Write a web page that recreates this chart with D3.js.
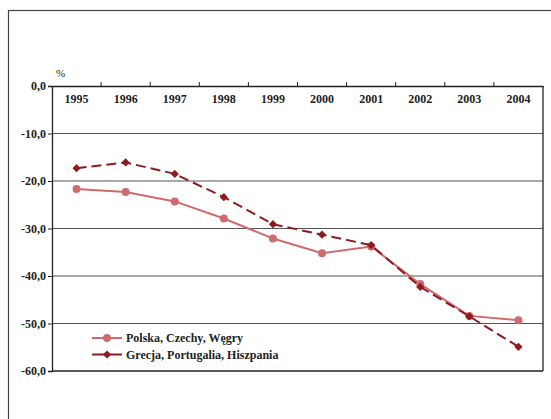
<!DOCTYPE html>
<html><head><meta charset="utf-8">
<script src="https://cdn.jsdelivr.net/npm/d3@7"></script>
<style>body{margin:0;background:#fff}svg{display:block}
svg text{font-family:"Liberation Serif","Times New Roman",Times,"DejaVu Serif","Noto Serif",serif !important;}</style>
</head><body>
<script>
const years = ["1995","1996","1997","1998","1999","2000","2001","2002","2003","2004"];
const seriesNames = ["Polska, Czechy, Węgry","Grecja, Portugalia, Hiszpania"];
const polska = [-21.7,-22.3,-24.3,-27.9,-32.1,-35.2,-33.8,-41.7,-48.4,-49.3];
const grecja = [-17.3,-16.1,-18.5,-23.4,-29.1,-31.3,-33.5,-42.3,-48.5,-54.9];
const yTicks = [0,-10,-20,-30,-40,-50,-60];

const W=551,H=419;
const svg=d3.select("body").append("svg").attr("width",W).attr("height",H);
svg.append("rect").attr("x",8.5).attr("y",10.5).attr("width",560).attr("height",420)
  .attr("fill","none").attr("stroke","#444").attr("stroke-width",1.2);

const L=52,R=543,T=86,B=371;
const x=d3.scaleBand().domain(years).range([L,R]);
const y=d3.scaleLinear().domain([0,-60]).range([T,B]);
const g=svg.append("g");

g.selectAll(".grid").data(yTicks.filter(d=>d!==0&&d!==-60)).join("line")
  .attr("x1",L).attr("x2",R).attr("y1",d=>y(d)).attr("y2",d=>y(d))
  .attr("stroke","#555").attr("stroke-width",1.2);
g.append("line").attr("x1",L).attr("x2",R).attr("y1",y(-60)).attr("y2",y(-60)).attr("stroke","#222").attr("stroke-width",1.3);
g.append("line").attr("x1",R).attr("x2",R).attr("y1",T).attr("y2",B).attr("stroke","#222").attr("stroke-width",1.3);

const yAxis=d3.axisLeft(y).tickValues(yTicks).tickSize(4).tickFormat(d=>d3.format(".1f")(d).replace(".",",").replace("−","-"));
const ya=svg.append("g").attr("transform",`translate(${L},0)`).call(yAxis);
ya.attr("font-family",null);
ya.select(".domain").attr("stroke","#222").attr("stroke-width",1.3);
ya.selectAll(".tick line").attr("stroke","#222");
ya.selectAll("text").style("font-weight","bold").style("font-size","12px").attr("fill","#222").attr("x",-6);

const xAxis=d3.axisTop(x).tickSize(0).tickFormat(d=>d);
const xa=svg.append("g").attr("transform",`translate(0,${T})`).call(xAxis);
xa.attr("font-family",null);
xa.select(".domain").attr("stroke","#222").attr("stroke-width",1.3);
xa.selectAll("text").style("font-weight","bold").style("font-size","12px").attr("fill","#222").attr("y",17).attr("dy",0);
svg.append("g").selectAll("line").data(years.slice(1)).join("line")
  .attr("x1",d=>x(d)).attr("x2",d=>x(d)).attr("y1",T-4).attr("y2",T).attr("stroke","#222");

svg.append("text").attr("x",56).attr("y",77).text("%").style("font-size","11px").attr("fill","#222");

const cx=d=>x(d)+x.bandwidth()/2;
const line=d3.line().x((d,i)=>cx(years[i])).y(d=>y(d));
const c1="#cf6a6e", c2="#8e1b1f";

svg.append("path").datum(polska).attr("d",line).attr("fill","none").attr("stroke",c1).attr("stroke-width",2);
svg.selectAll(".p1").data(polska).join("circle").attr("cx",(d,i)=>cx(years[i])).attr("cy",d=>y(d)).attr("r",4).attr("fill",c1);

svg.append("path").datum(grecja).attr("d",line).attr("fill","none").attr("stroke",c2).attr("stroke-width",2).attr("stroke-dasharray","10,5");
const diamond=d3.symbol().type(d3.symbolSquare).size(34);
svg.selectAll(".p2").data(grecja).join("path").attr("d",diamond)
  .attr("transform",(d,i)=>`translate(${cx(years[i])},${y(d)}) rotate(45)`).attr("fill",c2);

const lg=svg.append("g");
const legendItems=[{name:seriesNames[0],c:c1,sym:"circle"},{name:seriesNames[1],c:c2,sym:"diamond"}];
legendItems.forEach((it,i)=>{
  const yy=338+i*16.5;
  lg.append("line").attr("x1",92).attr("x2",122).attr("y1",yy).attr("y2",yy).attr("stroke",it.c).attr("stroke-width",2);
  if(it.sym==="circle") lg.append("circle").attr("cx",107).attr("cy",yy).attr("r",4).attr("fill",it.c);
  else lg.append("path").attr("d",diamond).attr("transform",`translate(107,${yy}) rotate(45)`).attr("fill",it.c);
  lg.append("text").attr("x",126).attr("y",yy+4).text(it.name).style("font-weight","bold").style("font-size","12px").attr("fill","#222");
});
</script>
</body></html>
